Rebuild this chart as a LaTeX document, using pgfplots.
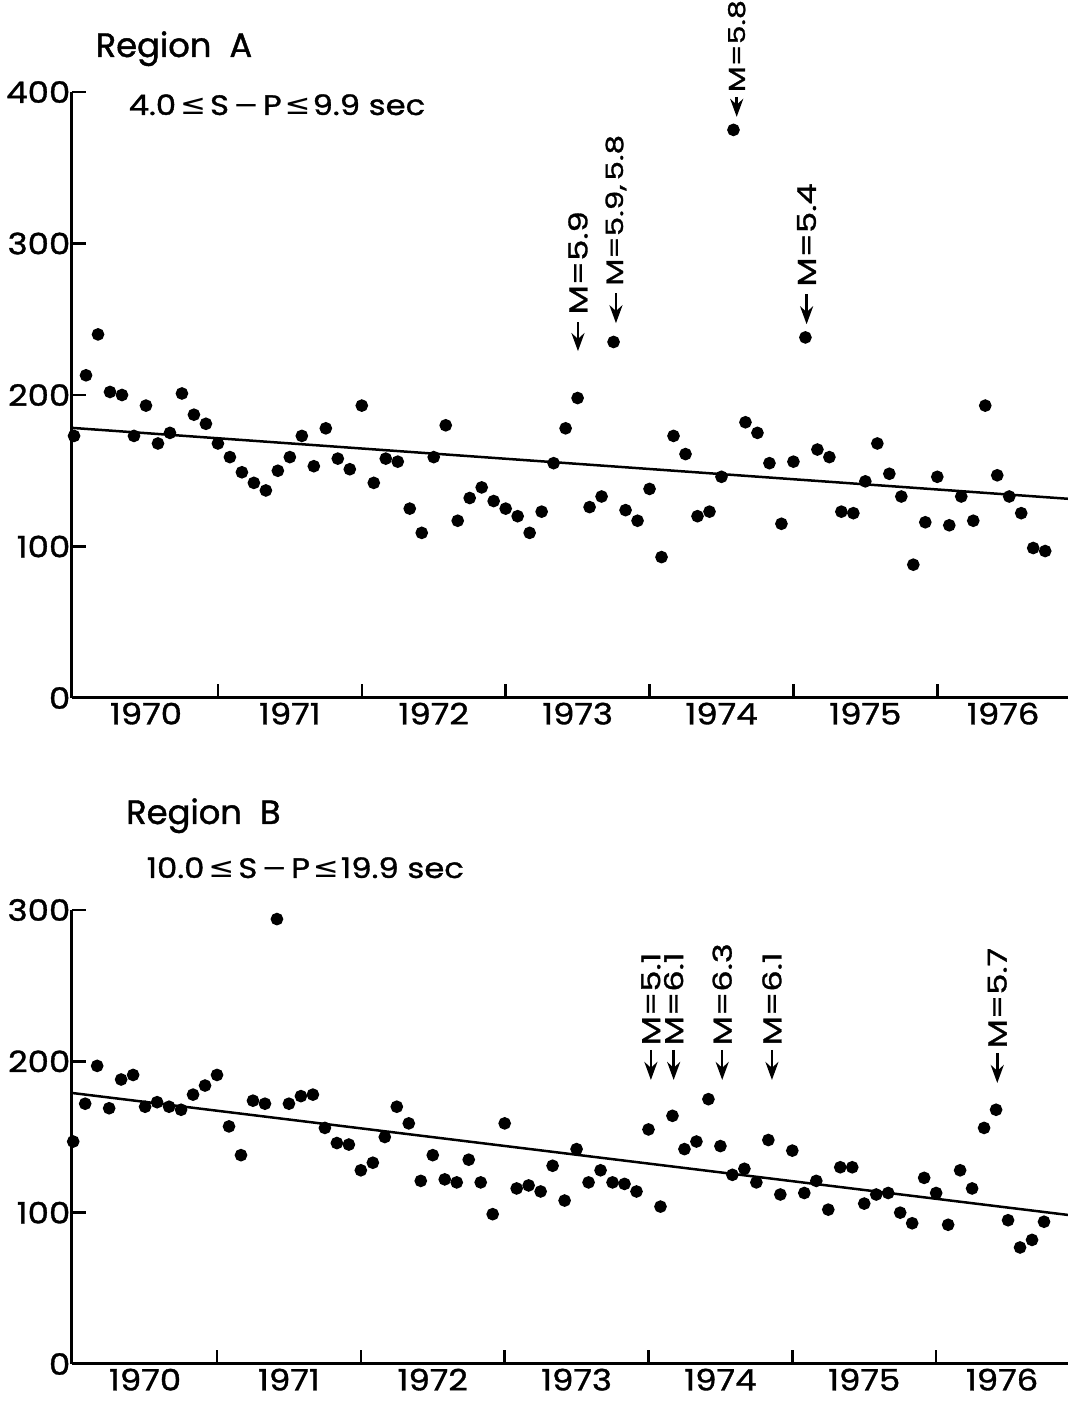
\documentclass[border=0pt]{standalone}
\usepackage{fontspec}
\setmainfont{Poppins}[FakeBold=1.2]
\newfontfamily\lett{Poppins}[FakeStretch=1.15, FakeBold=1.2]
\newfontfamily\annfont{Poppins}[FakeStretch=1.3, FakeBold=1.2]
\newfontfamily\symfont{DejaVu Sans}[FakeStretch=1.1]
\usepackage{pgfplots}
\usepackage{pgfplotstable}
\pgfplotsset{compat=1.18}
\usetikzlibrary{arrows.meta}

% monthly counts, month 0 = Jan 1970
\pgfplotstableread{
m v
0 173
1 213
2 240
3 202
4 200
5 173
6 193
7 168
8 175
9 201
10 187
11 181
12 168
13 159
14 149
15 142
16 137
17 150
18 159
19 173
20 153
21 178
22 158
23 151
24 193
25 142
26 158
27 156
28 125
29 109
30 159
31 180
32 117
33 132
34 139
35 130
36 125
37 120
38 109
39 123
40 155
41 178
42 198
43 126
44 133
45 235
46 124
47 117
48 138
49 93
50 173
51 161
52 120
53 123
54 146
55 375
56 182
57 175
58 155
59 115
60 156
61 238
62 164
63 159
64 123
65 122
66 143
67 168
68 148
69 133
70 88
71 116
72 146
73 114
74 133
75 117
76 193
77 147
78 133
79 122
80 99
81 97
}\regionA

\pgfplotstableread{
m v
0 147
1 172
2 197
3 169
4 188
5 191
6 170
7 173
8 170
9 168
10 178
11 184
12 191
13 157
14 138
15 174
16 172
17 294
18 172
19 177
20 178
21 156
22 146
23 145
24 128
25 133
26 150
27 170
28 159
29 121
30 138
31 122
32 120
33 135
34 120
35 99
36 159
37 116
38 118
39 114
40 131
41 108
42 142
43 120
44 128
45 120
46 119
47 114
48 155
49 104
50 164
51 142
52 147
53 175
54 144
55 125
56 129
57 120
58 148
59 112
60 141
61 113
62 121
63 102
64 130
65 130
66 106
67 112
68 113
69 100
70 93
71 123
72 113
73 92
74 128
75 116
76 156
77 168
78 95
79 77
80 82
81 94
}\regionB

\pgfplotsset{
  quake/.style={
    scale only axis, width=99.6mm,
    anchor=south west,
    axis x line=bottom, axis y line=left,
    axis line style={-, line width=0.3mm},
    ymin=0, ytick distance=100,
    xtick={12,24,36,48,60,72}, xticklabels={},
    extra x ticks={6,18,30,42,54,66,77.5},
    extra x tick labels={1970,1971,1972,1973,1974,1975,1976},
    extra x tick style={major tick length=0pt},
    tick align=inside, major tick length=1.4mm,
    tick style={line width=0.25mm, black},
    /pgf/number format/assume math mode=true,
    tick label style={font=\lett\fontsize{8.4}{9}\selectfont},
    xticklabel style={inner sep=0.4mm},
    yticklabel style={inner sep=0.1mm},
    clip=false,
  },
  dots/.style={only marks, mark=*, mark size=1.6pt, black},
  trend/.style={black, line width=0.25mm},
}
\tikzset{
  qarrow/.style={line width=0.25mm, -{Stealth[length=1.8mm, width=1.3mm]}},
  qlabel/.style={rotate=90, anchor=west, inner sep=0pt, font=\annfont\fontsize{7.4}{8}\selectfont},
}

% arrow tip at (x,y), arrow length, label offset, text
\newcommand{\quake}[5]{%
  \draw[qarrow] ([yshift=#3]axis cs:#1,#2) -- (axis cs:#1,#2);
  \node[qlabel] at ([yshift=#4]axis cs:#1,#2) {#5};
}

\begin{document}
\begin{tikzpicture}

\begin{axis}[quake, at={(7.2mm,70.7mm)}, height=60.6mm,
  xmin=-0.17, xmax=82.9, ymax=400]
  \addplot[dots] table[x=m, y=v] {\regionA};
  \addplot[trend] coordinates {(-0.17,178.3) (82.9,131.5)};
  \quake{42.03}{229}{2.9mm}{3.6mm}{M=5.9}
  \quake{45.2}{247.4}{3mm}{3.7mm}{\fontsize{6.8}{8}\selectfont M=5.9,\,5.8}
  \quake{55.27}{383.6}{2mm}{2.4mm}{\fontsize{6.6}{8}\selectfont M=5.8}
  \quake{61.1}{246.7}{3mm}{3.7mm}{M=5.4}
\end{axis}

\begin{axis}[quake, at={(7.2mm,4.1mm)}, height=45.4mm,
  xmin=-0.1, xmax=83, ymax=300]
  \addplot[dots] table[x=m, y=v] {\regionB};
  \addplot[trend] coordinates {(-0.1,179.1) (83,98.5)};
  \quake{48.2}{187.7}{3mm}{3.4mm}{M=5.1}
  \quake{50.1}{187.7}{3mm}{3.4mm}{M=6.1}
  \quake{54.15}{187.7}{3mm}{3.4mm}{M=6.3}
  \quake{58.3}{187.7}{3mm}{3.4mm}{M=6.1}
  \quake{77.1}{185.7}{3mm}{3.4mm}{M=5.7}
\end{axis}

\node[anchor=base west, inner sep=0, font=\fontsize{9.6}{11}\selectfont]
  at (9.5mm,134.8mm) {Region\ \ A};
\node[anchor=base west, inner sep=0, font=\lett\fontsize{8}{9}\selectfont]
  at (12.8mm,129.0mm) {4.0\hspace{0.4mm}{\symfont≤}\hspace{0.4mm}S\hspace{0.4mm}{\symfont−}\hspace{0.4mm}P\hspace{0.3mm}{\symfont≤}\hspace{0.2mm}9.9 sec};
\node[anchor=base west, inner sep=0, font=\fontsize{9.6}{11}\selectfont]
  at (12.55mm,58.1mm) {Region\ \ B};
\node[anchor=base west, inner sep=0, font=\lett\fontsize{8}{9}\selectfont]
  at (14.6mm,52.7mm) {10.0\hspace{0.4mm}{\symfont≤}\hspace{0.4mm}S\hspace{0.4mm}{\symfont−}\hspace{0.4mm}P\hspace{0.3mm}{\symfont≤}\hspace{0.2mm}19.9 sec};

\pgfresetboundingbox
\path[use as bounding box] (0,0) rectangle (106.8mm,140.5mm);
\end{tikzpicture}
\end{document}
